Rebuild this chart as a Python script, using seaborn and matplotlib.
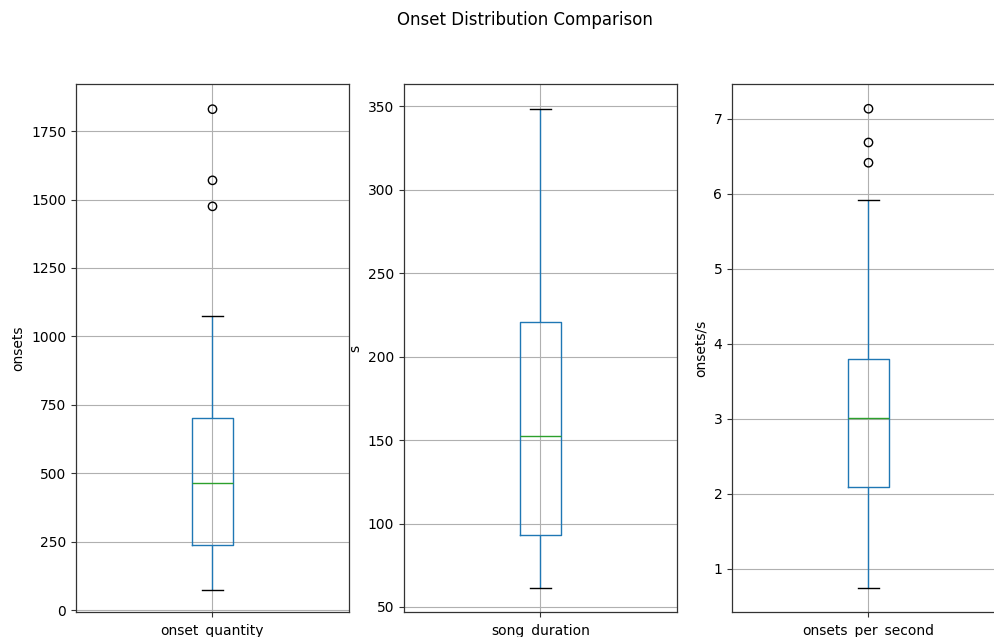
import matplotlib
matplotlib.use("Agg")
import matplotlib.pyplot as plt
import seaborn as sns
import pandas as pd

# Summary values: [low whisker, Q1, median, Q3, high whisker]
categories = ["onset_quantity", "song_duration", "onsets_per_second"]
ylabels = ["onsets", "s", "onsets/s"]
onset_quantity_stats = [75, 238, 465, 703, 1075]
onset_quantity_outliers = [1475, 1570, 1830]
song_duration_stats = [61.4, 93.0, 152.7, 220.6, 348.5]
song_duration_outliers = []
onsets_per_second_stats = [0.74, 2.09, 3.01, 3.80, 5.91]
onsets_per_second_outliers = [6.41, 6.68, 7.13]

stats = [onset_quantity_stats, song_duration_stats, onsets_per_second_stats]
outliers = [onset_quantity_outliers, song_duration_outliers, onsets_per_second_outliers]
ylims = [(-7, 1922), (47.0, 363.3), (0.42, 7.46)]
yticks = [[0, 250, 500, 750, 1000, 1250, 1500, 1750],
          [50, 100, 150, 200, 250, 300, 350],
          [1, 2, 3, 4, 5, 6, 7]]

W, H = 995, 637
fig = plt.figure(figsize=(W / 100, H / 100), dpi=100)
fig.patch.set_facecolor("white")

lefts = [76, 404, 732]
axw = 273
top, bottom = 84, 612

for i, cat in enumerate(categories):
    ax = fig.add_axes([lefts[i] / W, 1 - bottom / H, axw / W, (bottom - top) / H])
    df = pd.DataFrame({"cat": [cat] * len(stats[i]), "val": stats[i]})
    sns.boxplot(data=df, x="cat", y="val", ax=ax, width=0.15, fill=False,
                whis=1.5, linewidth=1.0,
                boxprops=dict(color="#1f77b4", linewidth=1.0),
                whiskerprops=dict(color="#1f77b4", linewidth=1.0),
                capprops=dict(color="black", linewidth=1.0),
                medianprops=dict(color="#2ca02c", linewidth=1.0),
                showfliers=False, zorder=3)
    if outliers[i]:
        odf = pd.DataFrame({"cat": [cat] * len(outliers[i]), "val": outliers[i]})
        sns.stripplot(data=odf, x="cat", y="val", ax=ax, jitter=False, size=6,
                      color="black", zorder=4)
        coll = ax.collections[-1]
        coll.set_facecolor("none")
        coll.set_edgecolor("black")
        coll.set_linewidth(1.0)
    ax.set_xlim(-0.5, 0.5)
    ax.set_ylim(*ylims[i])
    ax.set_yticks(yticks[i])
    ax.set_xlabel("")
    ax.set_ylabel(ylabels[i], fontsize=10)
    ax.grid(True, color="#b0b0b0", linewidth=0.8, zorder=0)
    ax.set_axisbelow(True)
    for s in ax.spines.values():
        s.set_color("#333333")
        s.set_linewidth(0.9)
    if i == 2:
        ax.spines["right"].set_visible(False)
    ax.tick_params(labelsize=10, length=3.5, width=0.8, color="#333333")
    ax.tick_params(axis="x", pad=5)

fig.suptitle("Onset Distribution Comparison", x=525 / W, y=1 - 20 / H,
             va="center", fontsize=12)

fig.savefig("out.png", dpi=100, facecolor="white")
